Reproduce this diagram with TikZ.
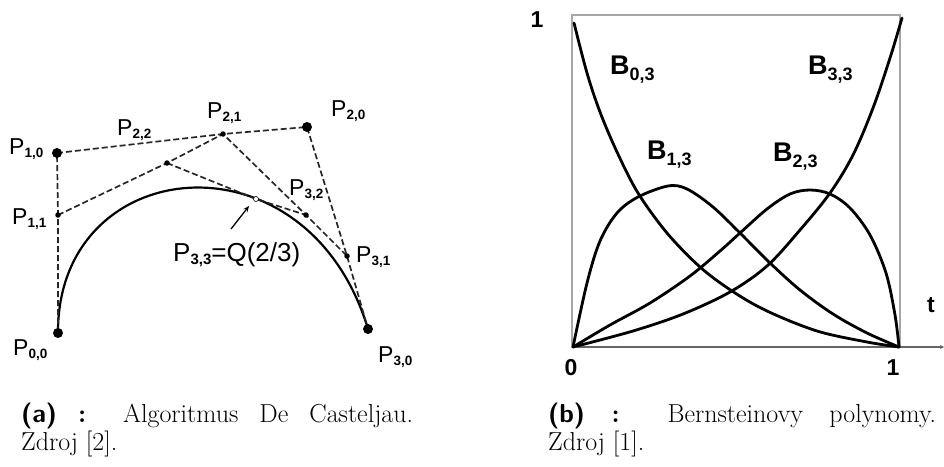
\documentclass[tikz,border=0pt]{standalone}
\usepackage{fontspec}
\newfontfamily\arial{Liberation Sans}
\usetikzlibrary{arrows.meta}
\newcommand{\psub}[1]{\raisebox{-3pt}{\fontsize{13.5}{13.5}\selectfont\bfseries #1}}
\newcommand{\qsub}[1]{\raisebox{-3.5pt}{\fontsize{15}{15}\selectfont\bfseries #1}}
\newcommand{\bsub}[1]{\raisebox{-6pt}{\fontsize{18}{18}\selectfont #1}}
\tikzset{
  bezcurve/.style={line width=2.2pt, black},
  dashln/.style={line width=1.7pt, dash pattern=on 6pt off 3pt, black!85},
  bigdot/.style={circle, fill=black, inner sep=0pt, minimum size=10pt},
  smalldot/.style={circle, fill=black, inner sep=0pt, minimum size=5.5pt},
  hollowdot/.style={circle, draw=black, fill=white, line width=0.6pt, inner sep=0pt, minimum size=5pt},
  plbl/.style={inner sep=0pt, anchor=base west, font=\arial\fontsize{23}{23}\selectfont},
  qlbl/.style={inner sep=0pt, anchor=base west, font=\arial\fontsize{26}{26}\selectfont},
  blbl/.style={inner sep=0pt, anchor=base west, font=\arial\bfseries\fontsize{27}{27}\selectfont},
  axlbl/.style={inner sep=0pt, font=\arial\bfseries\fontsize{23}{23}\selectfont},
  bcurve/.style={line width=2.8pt, black, line join=round, line cap=round},
  boxln/.style={line width=1.1pt, black!35},
  axisln/.style={line width=1.4pt, black!60},
  captext/.style={inner sep=0pt, anchor=base west, font=\fontsize{26}{30}\selectfont},
}
\begin{document}
\begin{tikzpicture}[x=1pt, y=-1pt]
\useasboundingbox (0,0) rectangle (944,466);
% ---------- left: De Casteljau ----------
\coordinate (p00) at (58,333);
\coordinate (p10) at (57,153);
\coordinate (p20) at (307,127);
\coordinate (p30) at (368,329);
\coordinate (p11) at (58,215);
\coordinate (p21) at (223,134);
\coordinate (p31) at (347,256);
\coordinate (p22) at (167,163);
\coordinate (p32) at (306,215);
\coordinate (p33) at (256,199);
\coordinate (arrs) at (231,229);
\coordinate (arre) at (249,206);

\draw[bezcurve] (p00) .. controls (p10) and (p20) .. (p30);
\draw[dashln] (p00) -- (p11) -- (p10) -- (p21) -- (p20) -- (p31) -- (p30);
\draw[dashln] (p11) -- (p22) -- (p21) -- (p32) -- (p31);
\draw[dashln] (p22) -- (p33) -- (p32);
\draw[line width=1.3pt, -{Stealth[length=6pt,width=5pt]}] (arrs) -- (arre);

\node[bigdot] (d00) at (p00) {};
\node[bigdot] (d10) at (p10) {};
\node[bigdot] (d20) at (p20) {};
\node[bigdot] (d30) at (p30) {};
\node[smalldot] (d11) at (p11) {};
\node[smalldot] (d21) at (p21) {};
\node[smalldot] (d31) at (p31) {};
\node[smalldot] (d22) at (p22) {};
\node[smalldot] (d32) at (p32) {};
\node[hollowdot] (d33) at (p33) {};

\node[plbl] (l10) at (9,154) {P\psub{1,0}};
\node[plbl] (l11) at (12,224) {P\psub{1,1}};
\node[plbl] (l22) at (117,135) {P\psub{2,2}};
\node[plbl] (l21) at (207,118) {P\psub{2,1}};
\node[plbl] (l20) at (331,116) {P\psub{2,0}};
\node[plbl] (l32) at (289,195) {P\psub{3,2}};
\node[plbl] (l31) at (356,262) {P\psub{3,1}};
\node[plbl] (l00) at (13,355) {P\psub{0,0}};
\node[plbl] (l30) at (378,362) {P\psub{3,0}};
\node[qlbl] (l33) at (173,261) {P\qsub{3,3}=Q(2/3)};

% ---------- right: Bernstein polynomials ----------
\coordinate (o) at (573,347);
\coordinate (e) at (899,347);
\coordinate (tl) at (572,15);
\coordinate (tr) at (900,15);
\coordinate (bl) at (572,347);
\coordinate (br) at (900,347);
\coordinate (tend) at (944,347);

\draw[boxln] (bl) -- (tl) -- (tr) -- (br);
\draw[axisln, -{Stealth[length=4pt,width=4pt]}] (bl) -- (tend);

\draw[bcurve] plot[smooth, tension=0.55] coordinates {(574,23) (587,73) (600,112) (617,152) (638,193) (667,233) (700,267) (732,291) (767,311) (817,331) (867,342) (e)};
\draw[bcurve] plot[smooth, tension=0.55] coordinates {(o) (587,283) (600,241) (617,213) (638,197) (668,186) (687,189) (713,207) (740,233) (770,263) (800,290) (833,314) (867,333) (e)};
\draw[bcurve] plot[smooth, tension=0.55] coordinates {(o) (610,325) (650,303) (690,276) (720,251) (740,233) (767,209) (790,194) (810,190) (830,194) (850,208) (870,235) (886,273) (895,315) (e)};
\draw[bcurve] plot[smooth, tension=0.55] coordinates {(o) (633,331) (683,314) (730,292) (767,266) (800,230) (830,193) (853,155) (873,108) (890,58) (902,18)};

\node[blbl] (b03) at (610,74) {B\bsub{0,3}};
\node[blbl] (b33) at (808,74) {B\bsub{3,3}};
\node[blbl] (b13) at (647,159) {B\bsub{1,3}};
\node[blbl] (b23) at (773,161) {B\bsub{2,3}};

\node[axlbl] (one) at (537,20) {1};
\node[axlbl] (zero) at (571,368) {0};
\node[axlbl] (onex) at (893,368) {1};
\node[axlbl] (tlab) at (931,305) {t};

% ---------- captions ----------
\node[captext] (capa1) at (21,422) {\makebox[392pt][s]{\textsf{\bfseries (a)} \textbf{:} Algoritmus De Casteljau.}};
\node[captext] (capa2) at (21,450) {Zdroj [2].};
\node[captext] (capb1) at (548,422) {\makebox[388pt][s]{\textsf{\bfseries (b)} \textbf{:} Bernsteinovy polynomy.}};
\node[captext] (capb2) at (548,450) {Zdroj [1].};
\end{tikzpicture}
\end{document}
